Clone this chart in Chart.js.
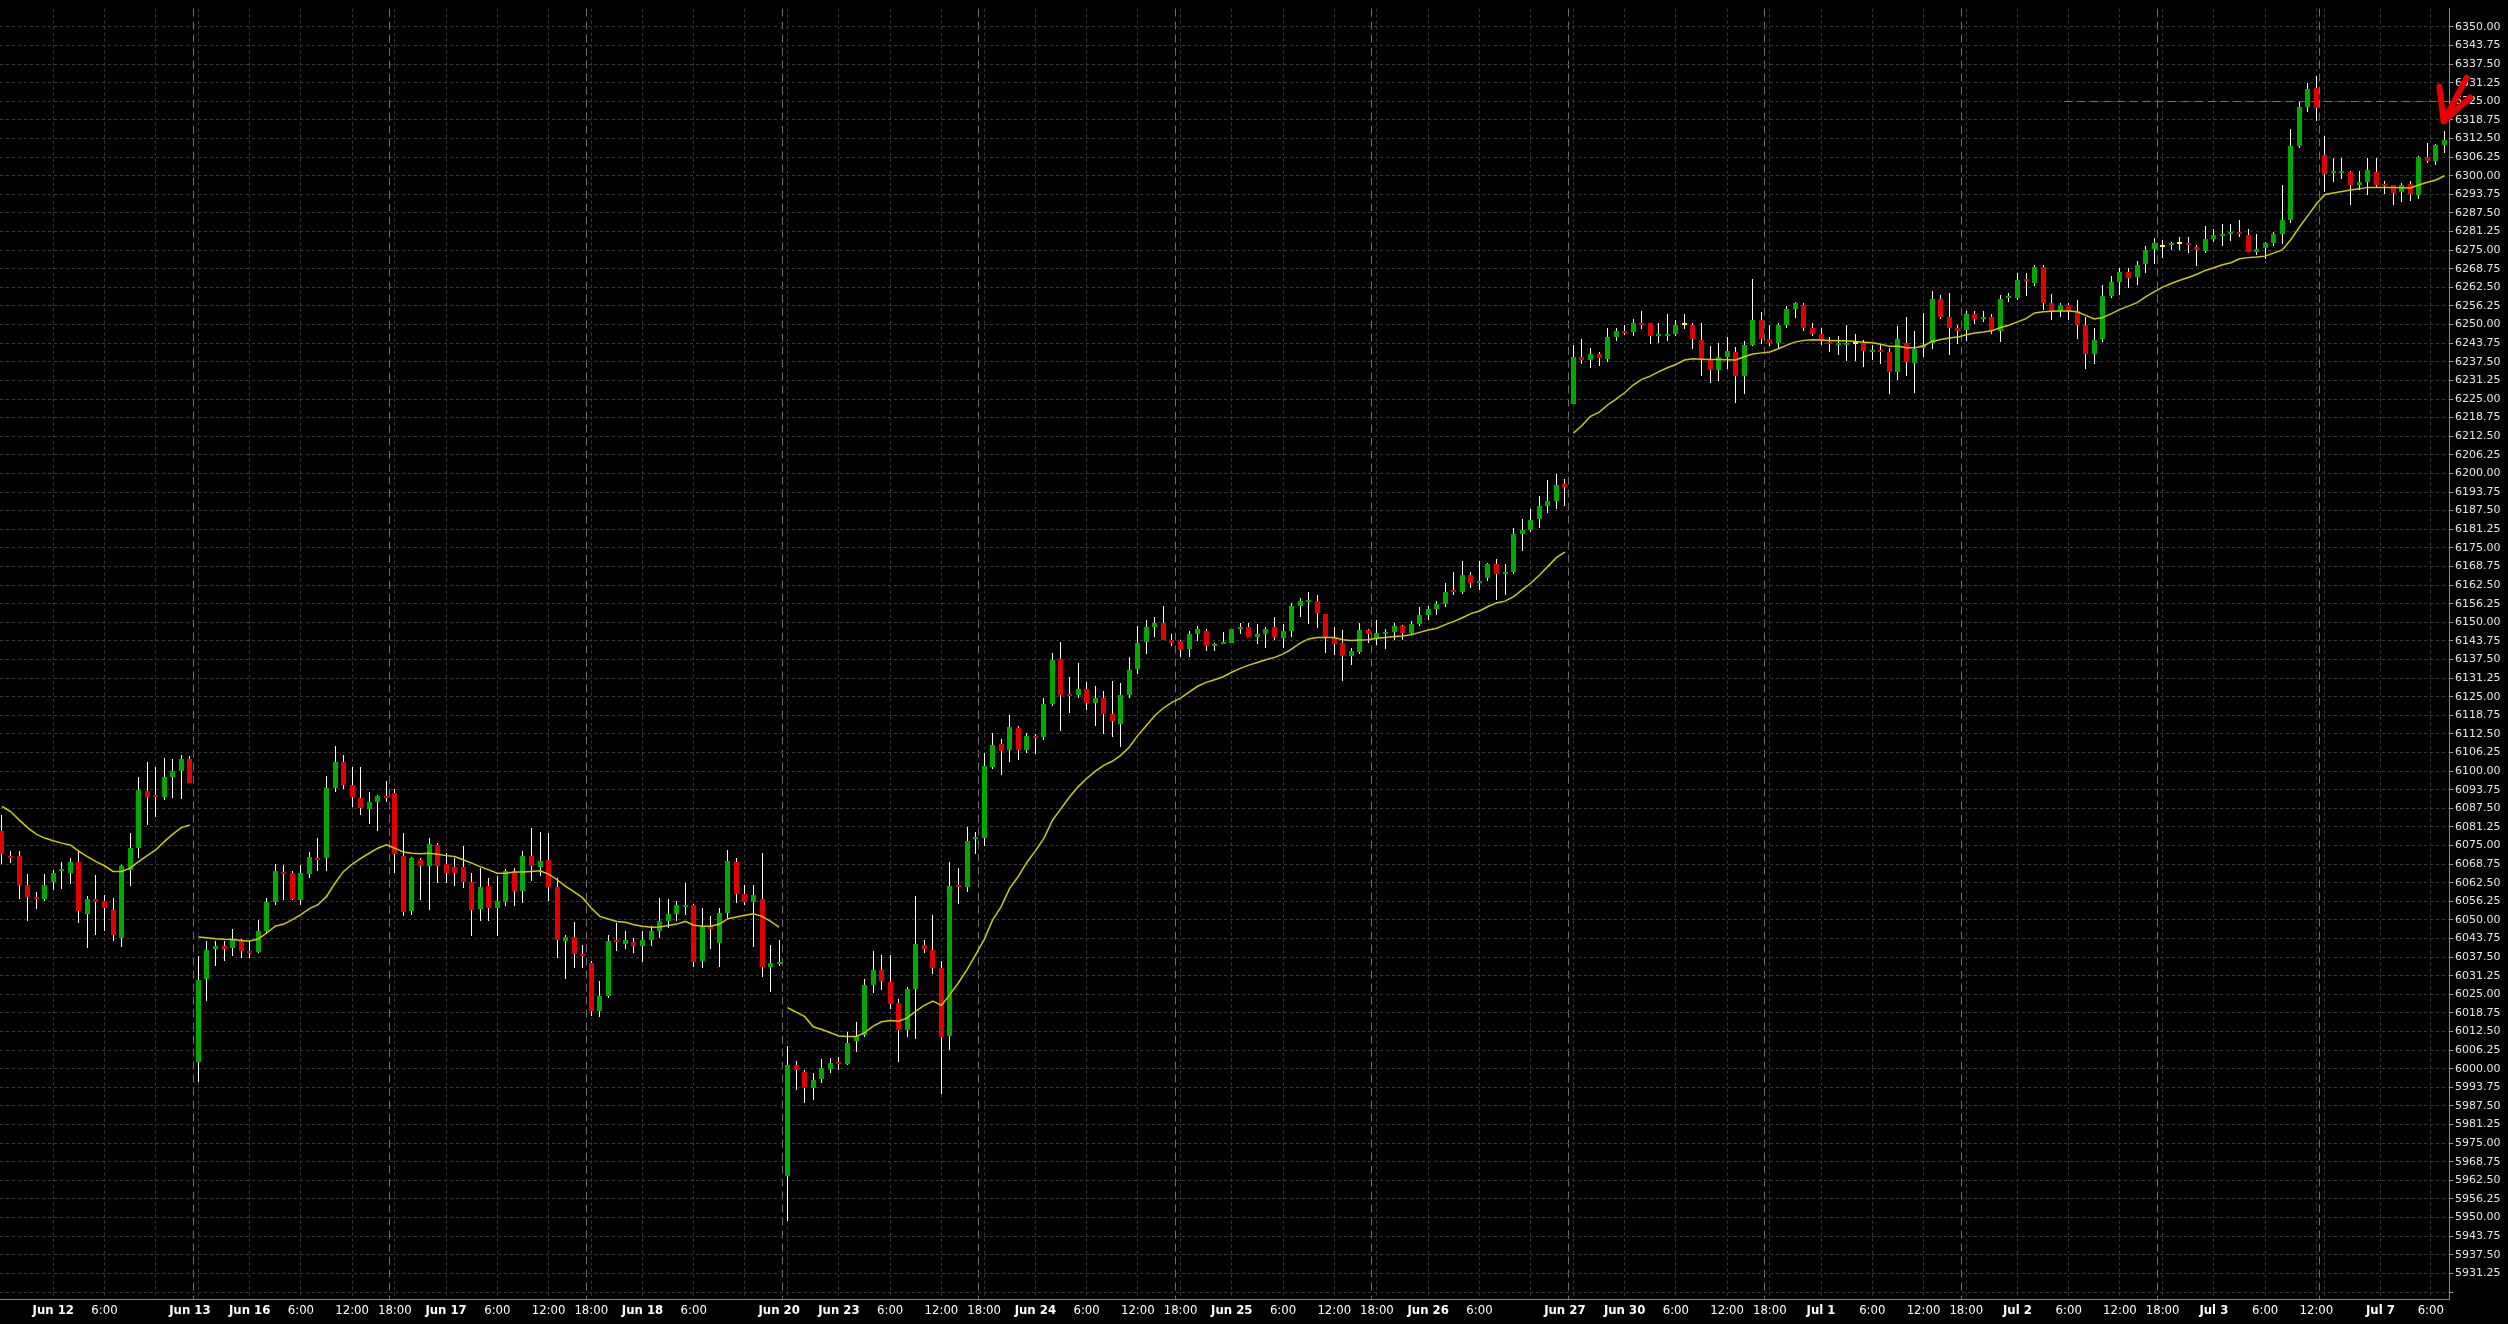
<!DOCTYPE html>
<html><head><meta charset="utf-8">
<script src="https://cdn.jsdelivr.net/npm/chart.js@4/dist/chart.umd.min.js"></script>
<style>
html,body{margin:0;padding:0;background:#000;overflow:hidden;}
canvas{display:block;}
</style></head><body>
<canvas id="c" width="2508" height="1324"></canvas>
<script>
// ---- hourly candles (bar index = position) ----
const opens = [6079.9,6071.3,6071.6,6061.6,6057.6,6056.9,6062.6,6066.3,6065.7,6069.6,6052.0,6057.1,6056.2,6053.5,6044.0,6066.8,6074.3,6093.3,6091.6,6091.2,6098.1,6100.1,6104.1,
6002.4,6030.2,6040.1,6041.2,6040.6,6043.4,6039.5,6039.3,6046.2,6055.9,6066.0,6065.7,6056.6,6065.4,6070.8,6070.8,6094.2,6103.1,6095.3,6091.1,6087.3,6089.5,6091.6,
6092.7,6071.6,6052.9,6070.2,6068.0,6075.2,6068.9,6067.7,6067.7,6062.6,6053.7,6061.3,6054.0,6056.0,6066.3,6059.6,6071.6,6067.7,6070.2,6060.9,6042.9,6044.2,6038.4,
6035.6,6019.4,6024.4,6043.1,6042.0,6042.5,6041.2,6043.1,6046.2,6049.8,6052.0,6054.4,6054.9,6036.2,6047.8,6042.3,6052.3,6069.6,6058.7,6055.9,6057.1,6034.1,6035.1,
5964.1,6001.3,5998.9,5993.6,5996.6,6000.0,6002.3,6001.6,6009.3,6011.3,6028.1,6033.1,6029.1,6022.0,6013.0,6026.7,6041.5,6039.8,6033.8,6011.0,6061.5,6060.9,6077.2,
6077.6,6101.4,6109.1,6107.1,6114.4,6107.1,6111.9,6111.4,6122.5,6137.5,6125.8,6125.5,6127.5,6122.8,6124.5,6119.1,6115.8,6125.5,6134.2,6143.3,6148.3,6149.6,6144.2,
6143.6,6140.9,6146.2,6147.2,6142.0,6142.7,6143.2,6147.7,6148.3,6145.2,6146.2,6148.3,6144.6,6147.2,6155.6,6156.7,6157.3,6152.9,6144.6,6142.9,6138.7,6140.0,6147.3,
6144.6,6146.0,6146.6,6148.6,6146.4,6149.3,6152.6,6154.6,6156.3,6160.6,6160.1,6166.0,6163.1,6164.8,6169.7,6166.1,6167.0,6179.7,6181.1,6184.8,6189.1,6190.8,6196.5,
6223.4,6239.0,6238.1,6240.0,6238.4,6245.8,6247.7,6247.4,6250.7,6250.7,6246.2,6246.2,6246.7,6250.0,6249.8,6244.7,6238.4,6234.7,6239.2,6240.7,6232.7,6243.0,6251.4,
6245.2,6243.7,6250.0,6255.4,6256.7,6248.7,6246.7,6244.1,6243.1,6243.1,6243.4,6243.7,6240.8,6241.2,6240.7,6234.1,6243.7,6237.1,6242.3,6243.7,6258.7,6252.7,6249.0,
6248.1,6253.7,6251.8,6252.7,6247.8,6258.8,6259.1,6265.4,6264.1,6269.4,6257.4,6254.7,6256.7,6254.7,6249.7,6240.0,6245.0,6259.7,6264.4,6267.8,6266.1,6270.4,6275.5,
6276.2,6276.9,6277.2,6277.2,6276.1,6274.8,6278.8,6279.9,6280.5,6281.1,6280.2,6274.4,6275.8,6277.5,6280.3,6285.2,6309.9,6323.0,6329.4,
6306.9,6300.9,6300.9,6301.3,6296.9,6297.9,6301.3,6297.2,6296.9,6294.5,6297.2,6293.5,6306.3,6304.9,6310.3];
const highs = [6085.3,6073.0,6073.0,6065.5,6059.4,6065.5,6066.8,6069.6,6070.8,6073.5,6058.2,6065.0,6058.5,6057.4,6068.5,6079.3,6098.1,6103.1,6101.4,6104.5,6104.2,6105.4,6105.0,
6037.8,6042.9,6042.9,6042.9,6046.8,6043.7,6042.9,6050.1,6057.4,6068.8,6068.5,6066.3,6068.5,6072.8,6077.5,6098.4,6108.5,6105.4,6101.5,6101.5,6093.1,6092.0,6096.7,
6094.0,6079.1,6071.3,6070.8,6077.5,6075.8,6072.4,6070.7,6075.0,6065.7,6067.4,6064.1,6064.6,6067.1,6067.4,6073.0,6080.8,6079.7,6079.3,6064.1,6045.1,6049.2,6041.7,
6036.2,6029.5,6044.8,6049.0,6046.2,6044.0,6046.2,6047.9,6057.4,6057.0,6056.5,6062.4,6055.4,6054.0,6051.2,6054.0,6073.5,6070.8,6061.8,6061.8,6072.4,6041.7,6043.4,
6007.6,6002.6,5999.6,5998.6,6003.3,6003.6,6004.0,6012.3,6015.7,6030.1,6039.4,6038.1,6038.1,6023.4,6027.4,6058.2,6043.1,6051.8,6036.1,6069.6,6067.6,6081.3,6079.4,
6106.2,6112.8,6110.9,6118.8,6115.3,6112.8,6112.4,6124.6,6139.7,6143.5,6131.5,6136.2,6129.8,6128.5,6126.8,6130.2,6129.5,6138.2,6148.6,6150.6,6151.9,6155.3,6146.2,
6144.2,6147.2,6148.9,6147.6,6143.2,6146.6,6147.9,6149.9,6149.6,6149.3,6148.3,6151.9,6149.3,6156.6,6158.2,6160.0,6159.2,6152.9,6148.3,6147.3,6141.2,6149.6,6147.9,
6150.6,6147.6,6149.6,6149.0,6150.3,6155.0,6155.6,6157.3,6163.3,6167.0,6170.7,6167.0,6170.7,6170.0,6171.4,6169.7,6181.7,6184.8,6188.1,6192.5,6197.8,6199.8,6198.1,
6243.0,6245.0,6242.0,6240.9,6248.7,6249.0,6249.7,6252.0,6254.7,6250.7,6250.7,6253.4,6251.7,6253.4,6250.7,6250.4,6242.7,6243.8,6245.7,6242.4,6244.6,6265.4,6254.4,
6249.8,6250.7,6256.4,6257.7,6257.1,6250.7,6248.7,6246.0,6246.3,6250.0,6247.0,6244.7,6243.0,6243.0,6242.0,6249.4,6252.7,6247.7,6254.0,6261.4,6260.1,6260.7,6249.7,
6254.7,6254.7,6254.7,6253.7,6260.1,6260.7,6267.4,6267.4,6270.1,6270.1,6260.4,6257.4,6257.4,6258.4,6252.7,6248.7,6263.4,6266.4,6269.1,6269.1,6271.4,6276.5,6279.2,
6278.5,6277.8,6279.5,6279.5,6276.8,6283.2,6282.2,6283.8,6283.8,6285.2,6282.2,6280.5,6277.8,6281.1,6296.9,6315.7,6324.7,6331.0,6333.4,
6313.3,6305.9,6305.9,6301.6,6301.6,6305.9,6305.9,6298.2,6296.9,6297.6,6298.2,6306.6,6310.9,6310.6,6315.0];
const lows = [6068.9,6069.0,6057.1,6049.8,6053.7,6056.2,6060.0,6060.4,6062.1,6049.0,6040.6,6045.1,6046.2,6042.9,6041.0,6061.3,6070.8,6081.9,6084.7,6090.3,6090.8,6090.5,6095.9,
5995.6,6022.8,6034.5,6036.2,6037.8,6037.3,6037.3,6038.9,6045.4,6055.1,6056.8,6056.8,6055.1,6064.1,6066.5,6066.3,6093.1,6093.9,6088.1,6085.3,6082.1,6080.0,6089.7,
6065.7,6051.2,6051.8,6056.8,6053.5,6062.4,6062.4,6061.3,6060.7,6044.5,6049.6,6049.6,6044.5,6054.6,6054.6,6055.7,6063.0,6064.6,6056.5,6037.3,6030.0,6033.9,6033.9,
6017.7,6017.4,6023.9,6039.5,6040.1,6038.9,6035.8,6041.2,6044.0,6047.3,6049.6,6051.8,6034.1,6033.9,6040.1,6034.1,6050.7,6055.7,6055.1,6040.8,6030.8,6025.8,6034.5,
5948.7,5992.9,5988.6,5989.6,5995.3,5998.6,5999.6,6001.3,6005.6,6010.6,6025.4,6026.4,6020.0,6002.3,6010.6,6010.0,6038.8,6031.7,5991.6,6006.3,6055.5,6059.5,6072.0,
6074.9,6100.8,6098.8,6103.0,6103.7,6106.2,6105.8,6110.4,6121.8,6113.4,6119.5,6124.5,6120.5,6115.1,6112.4,6111.4,6108.1,6124.5,6132.5,6139.2,6144.9,6143.9,6141.9,
6138.2,6138.2,6143.6,6140.2,6140.2,6142.6,6142.9,6145.9,6145.2,6142.6,6141.2,6144.0,6141.2,6144.9,6151.9,6149.4,6148.0,6139.7,6139.0,6130.3,6135.6,6139.3,6143.0,
6142.4,6141.0,6144.1,6144.0,6146.0,6148.7,6150.6,6152.4,6155.0,6159.1,6159.4,6161.4,6160.8,6163.8,6157.4,6159.1,6166.1,6173.8,6180.4,6181.6,6186.8,6188.1,6189.1,
6223.4,6236.7,6235.4,6236.1,6237.3,6244.5,6246.5,6246.1,6248.5,6243.4,6243.8,6244.4,6246.2,6248.4,6241.8,6232.7,6230.4,6231.1,6235.0,6223.7,6226.7,6242.8,6243.4,
6242.8,6242.0,6249.0,6252.1,6247.7,6246.3,6243.1,6240.8,6239.8,6237.7,6237.7,6235.7,6238.1,6236.7,6226.7,6231.4,6232.7,6227.0,6239.1,6241.8,6251.8,6239.8,6243.4,
6244.4,6250.1,6251.0,6246.8,6244.3,6257.5,6258.4,6259.7,6263.1,6255.0,6251.7,6252.7,6251.4,6245.3,6235.0,6236.6,6244.3,6259.0,6260.1,6262.4,6263.4,6267.4,6270.4,
6272.5,6275.1,6275.1,6274.1,6269.8,6274.1,6277.8,6276.5,6278.1,6279.5,6274.4,6273.5,6272.1,6276.5,6277.1,6284.2,6309.3,6321.3,6318.3,
6294.5,6297.9,6298.9,6290.2,6295.2,6293.5,6295.9,6293.9,6290.2,6291.2,6291.5,6292.2,6304.3,6303.6,6307.6];
const closes = [6072.2,6070.8,6061.8,6057.7,6057.1,6061.6,6065.8,6066.9,6069.6,6052.9,6056.9,6056.0,6053.9,6045.1,6068.2,6074.3,6093.6,6091.4,6091.2,6098.1,6100.1,6104.1,6096.1,
6029.8,6040.0,6041.2,6040.3,6043.1,6039.5,6038.9,6046.2,6055.9,6066.3,6065.4,6057.0,6065.7,6071.0,6070.2,6094.4,6103.1,6095.3,6091.4,6087.5,6089.5,6091.6,6090.8,
6072.1,6052.7,6070.8,6068.0,6075.6,6068.0,6065.7,6065.7,6062.6,6053.2,6061.0,6054.0,6056.2,6066.5,6059.8,6071.6,6068.0,6069.9,6060.9,6043.1,6044.2,6038.6,6037.8,
6019.4,6024.4,6042.9,6042.5,6043.1,6041.2,6043.4,6046.2,6049.5,6052.0,6054.9,6054.9,6035.8,6047.9,6047.1,6052.3,6069.9,6058.7,6055.9,6058.5,6034.1,6035.4,6035.9,
6001.3,5999.6,5993.6,5996.3,6000.3,6002.0,6001.7,6008.6,6011.0,6028.1,6033.1,6029.4,6021.7,6013.0,6026.7,6041.8,6040.1,6033.8,6010.6,6061.5,6060.9,6076.6,6077.6,
6101.7,6108.7,6106.7,6114.8,6107.1,6111.8,6111.2,6122.5,6137.2,6125.5,6125.2,6127.5,6122.8,6124.5,6119.1,6116.8,6125.5,6133.9,6142.9,6148.3,6149.8,6143.9,6142.9,
6140.6,6146.2,6147.6,6141.9,6142.7,6143.2,6147.6,6148.3,6145.2,6146.2,6147.9,6144.9,6147.2,6155.6,6157.3,6157.3,6153.1,6144.9,6142.7,6138.7,6140.2,6147.3,6146.0,
6146.3,6146.6,6148.6,6146.4,6149.3,6152.3,6154.6,6156.0,6160.3,6160.0,6166.0,6163.1,6164.0,6169.7,6166.1,6166.7,6179.7,6181.1,6184.4,6189.1,6190.8,6196.1,6195.5,
6239.0,6238.1,6240.0,6238.8,6246.0,6247.7,6247.2,6250.7,6250.0,6246.1,6246.7,6246.7,6250.0,6250.0,6245.1,6238.6,6234.7,6239.0,6241.0,6232.7,6243.3,6251.4,6245.1,
6243.7,6250.0,6255.4,6257.4,6248.7,6247.0,6244.6,6243.4,6243.7,6243.7,6243.4,6241.1,6241.2,6240.7,6234.1,6245.3,6237.4,6241.7,6243.0,6258.7,6252.7,6248.8,6248.0,
6253.7,6251.8,6252.7,6247.7,6258.7,6259.4,6265.1,6264.5,6269.4,6257.1,6254.7,6256.7,6254.7,6249.7,6240.0,6244.7,6259.7,6264.4,6267.8,6265.8,6270.1,6275.1,6277.5,
6276.2,6277.5,6277.2,6276.6,6275.1,6278.8,6280.2,6280.5,6281.1,6280.5,6274.4,6275.5,6277.5,6280.5,6285.2,6309.9,6323.0,6329.0,6322.7,
6300.6,6301.4,6301.6,6296.9,6297.9,6301.9,6296.9,6296.6,6294.2,6296.9,6293.9,6306.3,6304.9,6310.3,6312.0];
// moving average (yellow line), one value per bar
const maValues = [6088.1,6086.4,6083.6,6081.0,6078.8,6077.5,6076.6,6075.8,6075.2,6073.0,6071.3,6069.6,6068.2,6066.3,6066.3,6067.4,6069.6,6071.6,6073.5,6076.3,6078.8,6081.0,6081.9,
6044.3,6044.0,6043.7,6043.5,6043.4,6043.1,6042.9,6043.6,6045.6,6047.9,6048.6,6050.1,6051.8,6053.8,6055.1,6057.9,6062.4,6066.3,6068.7,6070.7,6072.4,6074.1,6075.2,
6074.1,6072.8,6072.4,6072.2,6072.4,6072.1,6071.6,6071.3,6070.2,6069.1,6067.9,6066.8,6065.7,6065.7,6066.1,6066.1,6066.3,6066.5,6065.4,6063.5,6061.3,6059.4,6057.4,
6054.0,6051.2,6050.3,6049.5,6049.2,6048.4,6047.9,6047.5,6047.6,6048.1,6048.6,6049.5,6048.2,6047.9,6047.9,6048.6,6050.4,6051.0,6051.6,6052.1,6051.2,6049.5,6047.6,
6020.5,6019.0,6017.5,6014.1,6013.2,6012.1,6011.0,6010.8,6010.8,6012.1,6014.3,6015.8,6016.2,6016.0,6017.1,6019.4,6021.3,6022.7,6021.3,6025.0,6028.9,6033.3,6038.3,
6043.4,6050.0,6054.5,6060.7,6064.6,6069.3,6073.2,6077.4,6083.5,6087.4,6091.3,6094.7,6097.5,6099.9,6101.9,6103.3,6105.3,6108.1,6112.0,6115.3,6118.7,6121.2,6123.1,
6124.5,6126.5,6128.5,6129.8,6130.7,6131.7,6133.2,6134.5,6135.6,6136.5,6137.4,6138.2,6139.3,6141.0,6143.0,6144.4,6144.9,6144.9,6144.9,6144.1,6143.9,6144.0,6144.1,
6144.6,6144.9,6145.2,6145.4,6145.8,6146.6,6147.4,6148.0,6149.2,6150.3,6151.5,6152.9,6153.8,6155.3,6156.5,6157.1,6158.6,6160.9,6163.1,6165.8,6168.7,6171.7,6173.6,
6213.5,6216.1,6219.2,6220.5,6223.0,6225.0,6227.1,6229.7,6231.6,6232.7,6234.2,6235.5,6236.6,6238.1,6238.5,6238.4,6238.3,6238.3,6238.2,6238.1,6239.2,6240.1,6240.5,
6240.8,6241.9,6243.1,6244.2,6244.7,6244.9,6244.8,6244.7,6244.6,6244.6,6244.3,6244.1,6243.9,6243.4,6242.7,6242.7,6242.2,6242.2,6242.9,6244.3,6245.0,6245.5,6245.8,
6246.6,6247.2,6247.5,6247.9,6249.0,6249.8,6250.9,6252.0,6253.9,6254.3,6254.5,6254.6,6254.6,6254.3,6253.1,6251.9,6252.4,6253.7,6255.1,6256.2,6257.4,6259.3,6261.0,
6262.6,6263.8,6264.9,6265.8,6266.9,6268.2,6269.1,6270.1,6270.8,6272.1,6272.5,6272.7,6273.0,6274.0,6275.1,6278.5,6282.7,6286.6,6290.5,
6293.7,6294.2,6294.7,6295.2,6295.6,6296.1,6296.1,6296.1,6296.1,6296.0,6295.9,6296.9,6297.8,6298.6,6300.0];
const maBreaks = [23, 92, 184];            // line is not joined into these bars (weekend gaps)
const sessionStarts = [23,46,69,92,115,138,161,184,207,230,253,272]; // day separators
// time axis ticks
const xTickBars   = [6,12,18,22,23,29,35,41,46,52,58,64,69,75,81,87,91,92,98,104,110,115,121,127,133,138,144,150,156,161,167,173,179,183,184,190,196,202,207,213,219,225,230,236,242,248,253,259,265,271,272,278.5,284.4];
const xTickLabels = ['Jun 12','6:00','','Jun 13','','Jun 16','6:00','12:00','18:00','Jun 17','6:00','12:00','18:00','Jun 18','6:00','','Jun 20','','Jun 23','6:00','12:00','18:00','Jun 24','6:00','12:00','18:00','Jun 25','6:00','12:00','18:00','Jun 26','6:00','','Jun 27','','Jun 30','6:00','12:00','18:00','Jul 1','6:00','12:00','18:00','Jul 2','6:00','12:00','18:00','Jul 3','6:00','12:00','','Jul 7','6:00'];
const xLabelOnly = [22, 91, 183];          // labels drawn without a grid line
// price axis
const yTickMin = 5925, yTickMax = 6350, yTickStep = 6.25;
const levelPrice = 6325, levelFromBar = 241.5;   // dashed horizontal level
const arrowTip = [285.9, 6318.3], arrowTail = [288.6, 6333.0], arrowHeadL = [285.4, 6330.0], arrowHeadR = [289.0, 6326.3];

const GREEN = '#00a800', RED = '#e00000', DOJI = '#ffff00', WICK = '#ffffff', MA_COLOR = '#cccc00';
const GRID = '#383838', SEP = '#6e6e6e', AXIS = '#8a8a8a';

const idx = opens.map((_, i) => i);
const bodyColors = idx.map(i => closes[i] > opens[i] ? GREEN : (closes[i] < opens[i] ? RED : DOJI));

const xTicks = [];
xTickBars.forEach((b, k) => xTicks.push({value: b, lab: xTickLabels[k], kind: xLabelOnly.includes(b) ? 'labelonly' : 'grid'}));
sessionStarts.forEach(s => xTicks.push({value: s - 0.6, lab: '', kind: 'sep'}));
xTicks.sort((a, b) => a.value - b.value);

const bgPlugin = {
  id: 'bg',
  beforeDraw(chart) {
    const ctx = chart.ctx;
    ctx.save(); ctx.fillStyle = '#000'; ctx.fillRect(0, 0, chart.width, chart.height); ctx.restore();
  }
};
// snap bar elements (computed by the scales) to whole pixels so wicks/bodies are crisp
const crispPlugin = {
  id: 'crisp',
  beforeDatasetsDraw(chart) {
    chart.data.datasets.forEach((ds, di) => {
      const meta = chart.getDatasetMeta(di);
      if (meta.type !== 'bar') return;
      meta.data.forEach(el => {
        el.x = Math.floor(el.x) + 0.5;
        el.y = Math.round(el.y);
        el.base = Math.round(el.base);
      });
    });
  }
};
const levelPlugin = {
  id: 'level',
  beforeDatasetsDraw(chart) {
    const {ctx, scales: {x, y}, chartArea} = chart;
    const py = Math.round(y.getPixelForValue(levelPrice)) + 0.5;
    ctx.save();
    ctx.strokeStyle = '#707070'; ctx.lineWidth = 1; ctx.setLineDash([8, 5]);
    ctx.beginPath(); ctx.moveTo(x.getPixelForValue(levelFromBar), py); ctx.lineTo(chartArea.right, py); ctx.stroke();
    ctx.restore();
  }
};
const arrowPlugin = {
  id: 'arrow',
  afterDraw(chart) {
    const {ctx, scales: {x, y}} = chart;
    const P = p => [x.getPixelForValue(p[0]), y.getPixelForValue(p[1])];
    const t = P(arrowTip), a = P(arrowTail), l = P(arrowHeadL), r = P(arrowHeadR);
    ctx.save();
    ctx.strokeStyle = '#e60000'; ctx.lineWidth = 6; ctx.lineCap = 'round'; ctx.lineJoin = 'round';
    ctx.beginPath(); ctx.moveTo(a[0], a[1]); ctx.lineTo(t[0], t[1]); ctx.stroke();
    ctx.beginPath(); ctx.moveTo(l[0], l[1]); ctx.lineTo(t[0], t[1]); ctx.lineTo(r[0], r[1]); ctx.stroke();
    ctx.restore();
  }
};

new Chart(document.getElementById('c'), {
  type: 'bar',
  data: {
    datasets: [
      {
        type: 'line', label: 'MA',
        data: idx.map(i => ({x: i, y: maValues[i]})),
        borderColor: MA_COLOR, borderWidth: 1.5, pointRadius: 0, tension: 0, order: 0,
        segment: { borderColor: c => maBreaks.includes(c.p1DataIndex) ? 'rgba(0,0,0,0)' : MA_COLOR }
      },
      {
        label: 'body',
        data: idx.map(i => ({x: i, y: [opens[i], closes[i]]})),
        backgroundColor: bodyColors, barThickness: 5, minBarLength: 2, grouped: false, order: 1,
        borderWidth: 0, inflateAmount: 0
      },
      {
        label: 'wick',
        data: idx.map(i => ({x: i, y: [lows[i], highs[i]]})),
        backgroundColor: WICK, barThickness: 1, grouped: false, order: 2, borderWidth: 0, inflateAmount: 0
      }
    ]
  },
  options: {
    responsive: false, animation: false, devicePixelRatio: 1,
    layout: { padding: { top: 4, left: 0, right: 0, bottom: 0 } },
    plugins: { legend: { display: false }, tooltip: { enabled: false } },
    scales: {
      x: {
        type: 'linear', min: -0.234, max: 286.53, offset: false,
        grid: {
          offset: false, drawTicks: false, lineWidth: 1,
          color: c => c.tick ? (c.tick.kind === 'sep' ? SEP : (c.tick.kind === 'labelonly' ? 'rgba(0,0,0,0)' : GRID)) : GRID
        },
        border: { display: true, color: AXIS, width: 1, dash: c => (c.tick && c.tick.kind === 'sep') ? [8, 5] : [3, 3] },
        afterBuildTicks: s => { s.ticks = xTicks.map(t => ({value: t.value, lab: t.lab, kind: t.kind})); },
        afterFit: s => { s.height = 25; },
        ticks: {
          autoSkip: false, maxRotation: 0, minRotation: 0, padding: 4, color: '#ffffff',
          font: c => ({ family: '"DejaVu Sans Condensed", "DejaVu Sans", sans-serif', size: 13,
                        weight: (c.tick && /^[A-Z]/.test(c.tick.lab || '')) ? 'bold' : 'normal' }),
          callback: (v, i, ticks) => ticks[i].lab
        }
      },
      y: {
        position: 'right', min: 5922.65, max: 6356.16,
        grid: { color: GRID, drawTicks: true, tickLength: 4, tickColor: '#9a9a9a', tickWidth: 1, lineWidth: 1 },
        border: { display: true, color: AXIS, width: 1, dash: [3, 3] },
        afterBuildTicks: s => {
          const t = [];
          for (let v = yTickMin; v <= yTickMax + 1e-6; v += yTickStep) t.push({value: v});
          s.ticks = t;
        },
        afterFit: s => { s.width = 59; },
        ticks: {
          autoSkip: false, padding: 2, color: '#e6e6e6',
          font: { family: '"DejaVu Sans", sans-serif', size: 11 },
          callback: v => (v === yTickMin ? '' : v.toFixed(2))
        }
      }
    }
  },
  plugins: [bgPlugin, crispPlugin, levelPlugin, arrowPlugin]
});
</script>
</body></html>
